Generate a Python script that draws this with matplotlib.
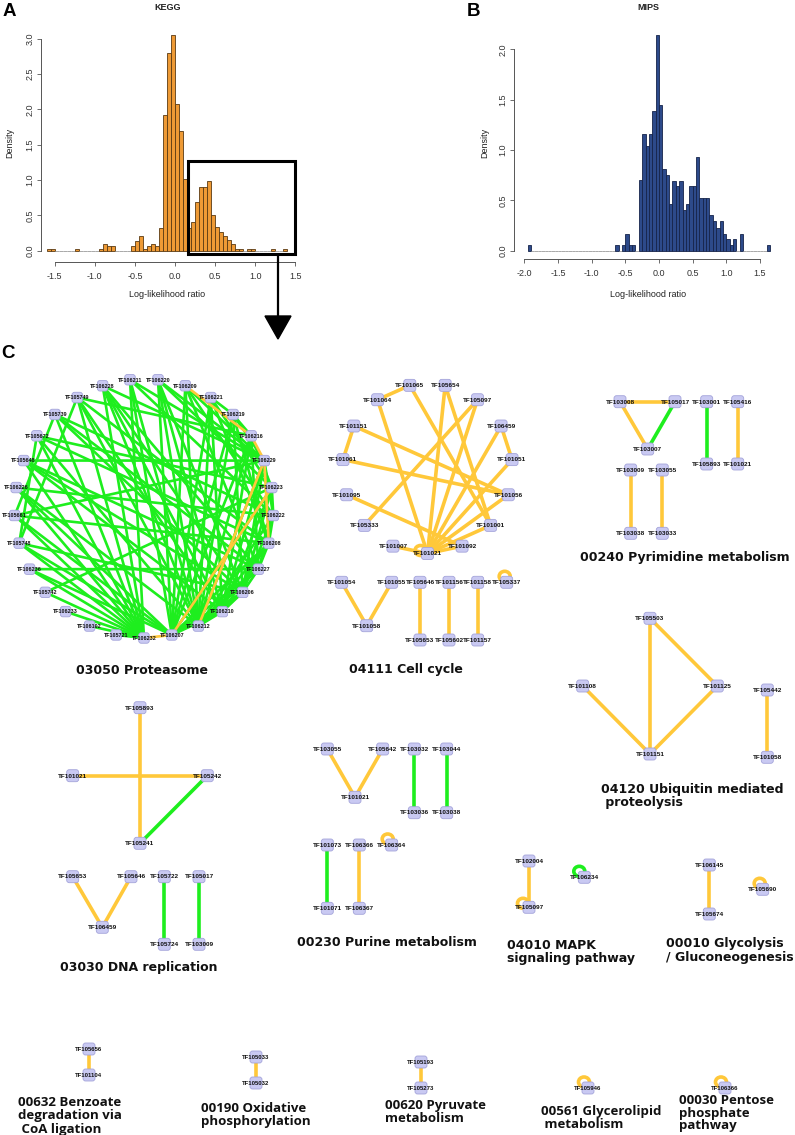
import numpy as np
import matplotlib
matplotlib.use("Agg")
import matplotlib.pyplot as plt
from matplotlib.patches import FancyBboxPatch, Rectangle, Polygon, Ellipse

# ======================= DATA =======================
bin_width = 0.05
kegg_bin_start = -1.60
kegg_density = [0.03, 0.03, 0, 0, 0, 0, 0, 0.03, 0, 0,
                0, 0, 0, 0.03, 0.10, 0.06, 0.06, 0, 0, 0,
                0, 0.06, 0.14, 0.21, 0.03, 0.06, 0.10, 0.06, 0.32, 1.92,
                2.80, 3.05, 2.07, 1.70, 1.01, 0.32, 0.40, 0.69, 0.90, 0.90,
                0.98, 0.50, 0.33, 0.27, 0.21, 0.15, 0.09, 0.03, 0.03, 0,
                0.03, 0.03, 0, 0, 0, 0, 0.03, 0, 0, 0.03]
mips_bin_start = -1.95
mips_density = [0.057] + [0] * 25 + [0.057, 0, 0.057, 0.17, 0.057, 0.057, 0,
                0.70, 1.16, 1.04, 1.16, 1.39, 2.14, 1.45, 0.81, 0.75, 0.46,
                0.69, 0.64, 0.69, 0.40, 0.46, 0.64, 0.64, 0.93, 0.52, 0.52,
                0.52, 0.35, 0.29, 0.23, 0.29, 0.17, 0.116, 0.057, 0.116, 0,
                0.17, 0, 0, 0, 0, 0, 0, 0, 0.057]
kegg_xticks = [-1.5, -1.0, -0.5, 0.0, 0.5, 1.0, 1.5]
kegg_yticks = [0.0, 0.5, 1.0, 1.5, 2.0, 2.5, 3.0]
mips_xticks = [-2.0, -1.5, -1.0, -0.5, 0.0, 0.5, 1.0, 1.5]
mips_yticks = [0.0, 0.5, 1.0, 1.5, 2.0]
kegg_title, mips_title = "KEGG", "MIPS"
hist_xlabel, hist_ylabel = "Log-likelihood ratio", "Density"

# Networks: kind 'y' = yellow/orange interaction, 'g' = green interaction
proteasome_nodes = ["TF106211", "TF106220", "TF106209", "TF106221", "TF106219",
                    "TF106216", "TF106229", "TF106223", "TF106222", "TF106208",
                    "TF106227", "TF106206", "TF106210", "TF106212", "TF106207",
                    "TF106232", "TF105721", "TF106102", "TF106233", "TF105742",
                    "TF106236", "TF105748", "TF105661", "TF106226", "TF105648",
                    "TF105672", "TF105739", "TF105749", "TF106228"]
proteasome_green = {
    "TF106228": ["TF106232", "TF106206", "TF106210", "TF106227", "TF106229", "TF106212"],
    "TF105749": ["TF106232", "TF105748", "TF106212", "TF106210", "TF106208", "TF106216"],
    "TF105739": ["TF106232", "TF105661", "TF106206", "TF106227", "TF106222"],
    "TF105672": ["TF106232", "TF105748", "TF106212", "TF106208", "TF106223"],
    "TF105648": ["TF106229", "TF106232", "TF106210", "TF106206", "TF106227"],
    "TF106226": ["TF106232", "TF106207", "TF106222", "TF106212"],
    "TF105661": ["TF106232", "TF106208", "TF106207", "TF106229"],
    "TF105748": ["TF106232", "TF106206", "TF106207"],
    "TF106236": ["TF106227", "TF106232", "TF106207"],
    "TF105742": ["TF106232", "TF106223"],
    "TF106233": ["TF106232"],
    "TF106102": ["TF106232"],
    "TF105721": ["TF106232"],
    "TF106211": ["TF106232", "TF106207", "TF106212", "TF106229", "TF106222"],
    "TF106220": ["TF106207", "TF106212", "TF106210", "TF106206", "TF106223", "TF106229"],
    "TF106209": ["TF106207", "TF106212", "TF106227", "TF106222", "TF106229"],
    "TF106221": ["TF106207", "TF106212", "TF106210", "TF106208", "TF106223", "TF106219"],
    "TF106219": ["TF106207", "TF106212", "TF106206", "TF106208", "TF106229", "TF106216"],
    "TF106216": ["TF106207", "TF106212", "TF106210", "TF106227", "TF106223"],
    "TF106229": ["TF106212", "TF106206", "TF106222", "TF106210"],
    "TF106223": ["TF106207", "TF106210", "TF106206", "TF106222"],
    "TF106222": ["TF106212", "TF106206", "TF106227", "TF106208"],
    "TF106208": ["TF106207", "TF106212", "TF106210", "TF106227"],
    "TF106227": ["TF106207", "TF106212", "TF106206"],
    "TF106206": ["TF106207", "TF106212", "TF106210"],
    "TF106210": ["TF106207", "TF106212"],
}
proteasome_yellow = [("TF106209", "TF106216"), ("TF106216", "TF106229"),
                     ("TF106229", "TF106208"), ("TF106232", "TF106207"),
                     ("TF106207", "TF106223"), ("TF106212", "TF106229")]

cellcycle_ring = ["TF101021", "TF101007", "TF105333", "TF101095", "TF101061",
                  "TF101151", "TF101064", "TF101065", "TF105654", "TF105097",
                  "TF106459", "TF101051", "TF101056", "TF101001", "TF101092"]
cellcycle_edges = [("TF101065", "TF101064", "y"), ("TF101064", "TF101021", "y"),
                   ("TF105654", "TF101021", "y"), ("TF105654", "TF101001", "y"),
                   ("TF101065", "TF101001", "y"), ("TF105097", "TF105333", "y"),
                   ("TF105097", "TF101021", "y"), ("TF101151", "TF101061", "y"),
                   ("TF101151", "TF101056", "y"), ("TF101061", "TF101056", "y"),
                   ("TF106459", "TF101051", "y"), ("TF106459", "TF101021", "y"),
                   ("TF101051", "TF101021", "y"), ("TF101095", "TF101092", "y"),
                   ("TF101056", "TF101021", "y"), ("TF101001", "TF101021", "y"),
                   ("TF101007", "TF101021", "y"), ("TF101092", "TF101021", "y"),
                   ("TF101021", "TF101021", "y")]
cellcycle_small_edges = [("TF101054", "TF101058", "y"), ("TF101055", "TF101058", "y"),
                         ("TF105646", "TF105653", "y"), ("TF101156", "TF105602", "y"),
                         ("TF101158", "TF101157", "y"), ("TF105337", "TF105337", "y")]
pyrimidine_edges = [("TF103008", "TF105017", "y"), ("TF103008", "TF103007", "y"),
                    ("TF105017", "TF103007", "g"), ("TF103001", "TF105893", "g"),
                    ("TF105416", "TF101021", "y"), ("TF103009", "TF103038", "y"),
                    ("TF103055", "TF103033", "y")]
ubiquitin_edges = [("TF105503", "TF101151", "y"), ("TF105503", "TF101125", "y"),
                   ("TF101108", "TF101151", "y"), ("TF101125", "TF101151", "y"),
                   ("TF105442", "TF101058", "y")]
dna_edges = [("TF105893", "TF105241", "y"), ("TF101021", "TF105242", "y"),
             ("TF105242", "TF105241", "g"), ("TF105653", "TF106459", "y"),
             ("TF105646", "TF106459", "y"), ("TF105722", "TF105724", "g"),
             ("TF105017", "TF103009", "g")]
purine_edges = [("TF103055", "TF101021", "y"), ("TF105642", "TF101021", "y"),
                ("TF103032", "TF103036", "g"), ("TF103044", "TF103038", "g"),
                ("TF101073", "TF101071", "g"), ("TF106366", "TF106367", "y"),
                ("TF106364", "TF106364", "y")]
mapk_edges = [("TF102004", "TF105097", "y"), ("TF105097", "TF105097", "y"),
              ("TF106234", "TF106234", "g")]
glycolysis_edges = [("TF106145", "TF105674", "y"), ("TF105690", "TF105690", "y")]
benzoate_edges = [("TF105656", "TF101104", "y")]
oxphos_edges = [("TF105033", "TF105032", "y")]
pyruvate_edges = [("TF105193", "TF105273", "y")]
glycerolipid_edges = [("TF105946", "TF105946", "y")]
pentose_edges = [("TF106366", "TF106366", "y")]

pathway_titles = ["03050 Proteasome", "04111 Cell cycle", "00240 Pyrimidine metabolism",
                  "04120 Ubiquitin mediated\n proteolysis", "03030 DNA replication",
                  "00230 Purine metabolism", "04010 MAPK\nsignaling pathway",
                  "00010 Glycolysis\n/ Gluconeogenesis"]
bottom_titles = ["00632 Benzoate\ndegradation via\n CoA ligation",
                 "00190 Oxidative\nphosphorylation", "00620 Pyruvate\nmetabolism",
                 "00561 Glycerolipid\n metabolism", "00030 Pentose\nphosphate\npathway"]

# ======================= LAYOUT / STYLE =======================
W, H = 795, 1135
YEL, GRN = "#FFC83A", "#1EEE1E"
EDGE_COL = {"y": YEL, "g": GRN}
NODE_FC, NODE_EC = "#C9C9F2", "#A4A4DA"
LBL_FONT = ["Liberation Sans", "DejaVu Sans"]


def ring(nodes, cx, cy, r, start_deg):
    n = len(nodes)
    out = {}
    for i, nd in enumerate(nodes):
        a = np.deg2rad(start_deg + 360.0 * i / n)
        out[nd] = (cx + r * np.sin(a), cy - r * np.cos(a))
    return out


pos_proteasome = ring(proteasome_nodes, 144, 508.5, 129.5, -6.2)
pos_cellcycle = ring(cellcycle_ring, 427.5, 468.5, 85, 180)
pos_cellcycle_small = {"TF101054": (341.7, 582.3), "TF101055": (391.7, 582.3),
                       "TF105646": (420, 582.3), "TF101156": (449, 582.3),
                       "TF101158": (477.7, 582.3), "TF105337": (506.7, 582.3),
                       "TF101058": (366.7, 625.7), "TF105653": (420, 640),
                       "TF105602": (449, 640), "TF101157": (477.7, 640)}
pos_pyrimidine = {"TF103008": (620, 401.7), "TF105017": (675, 401.7),
                  "TF103001": (706.7, 401.7), "TF105416": (737.7, 401.7),
                  "TF103007": (647.7, 449), "TF105893": (706.7, 464),
                  "TF101021": (737.7, 464), "TF103009": (630.7, 470),
                  "TF103055": (662.3, 470), "TF103038": (630.7, 533.3),
                  "TF103033": (662.3, 533.3)}
pos_ubiquitin = {"TF105503": (650, 618.3), "TF101108": (582.7, 686),
                 "TF101125": (717.3, 686), "TF101151": (650, 754),
                 "TF105442": (767.3, 690), "TF101058": (767.3, 757.3)}
pos_dna = {"TF105893": (140, 707.7), "TF101021": (72.7, 775.7),
           "TF105242": (207.3, 775.7), "TF105241": (140, 843.3),
           "TF105653": (72.7, 876.7), "TF105646": (131, 876.7),
           "TF105722": (164.3, 876.7), "TF105017": (199, 876.7),
           "TF106459": (102.3, 927.3), "TF105724": (164.3, 944.3),
           "TF103009": (199, 944.3)}
pos_purine = {"TF103055": (327.3, 749), "TF105642": (382.7, 749),
              "TF103032": (414.3, 749), "TF103044": (446.7, 749),
              "TF101021": (355, 797.3), "TF103036": (414.3, 812.7),
              "TF103038": (446.7, 812.7), "TF101073": (327.3, 845),
              "TF106366": (359.3, 845), "TF106364": (391.7, 845),
              "TF101071": (327.3, 908.3), "TF106367": (359.3, 908.3)}
pos_mapk = {"TF102004": (529, 861), "TF105097": (529, 907.3), "TF106234": (584.3, 877.3)}
pos_glycolysis = {"TF106145": (709.3, 865), "TF105674": (709.3, 914), "TF105690": (762.7, 889.3)}
pos_benzoate = {"TF105656": (89, 1049), "TF101104": (89, 1075)}
pos_oxphos = {"TF105033": (256, 1057), "TF105032": (256, 1083)}
pos_pyruvate = {"TF105193": (421, 1062), "TF105273": (421, 1088)}
pos_glycerolipid = {"TF105946": (588, 1088)}
pos_pentose = {"TF106366": (725, 1088)}

loop_offsets = {"TF101021": (-7, -3), "TF105337": (-2, -6), "TF106364": (-4, -6),
                "TF105097": (-6, -4), "TF106234": (-5, -6), "TF105690": (-3, -6),
                "TF105946": (-4, -6), "TF106366": (-4, -6)}

title_pos = [(141.7, 670, "center"), (406, 669, "center"), (685, 557, "center"),
             (601, 796, "left"), (139, 968, "center"), (387, 942, "center"),
             (507, 952, "left"), (666, 950.5, "left")]
bottom_title_pos = [(18, 1116), (201, 1114.5), (385, 1112), (541, 1118), (679, 1113)]

# ======================= FIGURE =======================
fig = plt.figure(figsize=(W / 100, H / 100), dpi=100)


def frac_rect(l, t, r, b):
    return [l / W, 1 - b / H, (r - l) / W, (b - t) / H]


def make_hist(start, dens, zero_px, ppu_x, base_px, ppu_y, l, r, t, b,
              xticks, yticks, face, edge):
    ax = fig.add_axes(frac_rect(l, t, r, b))
    dens = np.asarray(dens, dtype=float)
    lefts = start + bin_width * np.arange(len(dens))
    ecs = [edge if d > 0 else "#9a9a9a" for d in dens]
    ax.bar(lefts, dens, width=bin_width, align="edge", color=face,
           edgecolor=ecs, linewidth=0.6)
    ax.set_xlim((l - zero_px) / ppu_x, (r - zero_px) / ppu_x)
    ax.set_ylim((base_px - b) / ppu_y, (base_px - t) / ppu_y)
    for s in ("top", "right"):
        ax.spines[s].set_visible(False)
    for s in ("left", "bottom"):
        ax.spines[s].set_color("#555555")
        ax.spines[s].set_linewidth(0.7)
    ax.spines["bottom"].set_bounds(xticks[0], xticks[-1])
    ax.spines["left"].set_bounds(yticks[0], yticks[-1])
    ax.set_xticks(xticks)
    ax.set_xticklabels([f"{v:.1f}" for v in xticks], family=LBL_FONT)
    ax.set_yticks(yticks)
    ax.set_yticklabels([f"{v:.1f}" for v in yticks], rotation=90, va="center",
                       family=LBL_FONT)
    ax.tick_params(length=3, width=0.6, color="#555555", labelsize=6.5,
                   labelcolor="#333333")
    ax.tick_params(axis="x", pad=4.5)
    ax.tick_params(axis="y", pad=1.5)
    ax.patch.set_alpha(0)
    return ax


ax_k = make_hist(kegg_bin_start, kegg_density, 175, 80.3, 250.7, 70.7,
                 41, 300, 30, 262, kegg_xticks, kegg_yticks, "#EE9A35", "#5a3a12")
ax_m = make_hist(mips_bin_start, mips_density, 659, 67.3, 250.7, 100.7,
                 514, 780, 30, 258.7, mips_xticks, mips_yticks, "#2D4A8A", "#16244a")

# zoom box on KEGG histogram
ax_k.add_patch(Rectangle((0.16, -0.05), 1.337, 1.315, fill=False, ec="black",
                         lw=2.2, clip_on=False, zorder=5))


def ftext(x, y, s, **kw):
    fig.text(x / W, 1 - y / H, s, **kw)


hist_font = dict(family=LBL_FONT, color="#222222")
ftext(167.5, 8, kegg_title, ha="center", va="center", fontsize=6.5, fontweight="bold", **hist_font)
ftext(648.5, 8, mips_title, ha="center", va="center", fontsize=6.5, fontweight="bold", **hist_font)
ftext(167.5, 294.5, hist_xlabel, ha="center", va="center", fontsize=6.5, **hist_font)
ftext(648, 294.5, hist_xlabel, ha="center", va="center", fontsize=6.5, **hist_font)
ftext(10, 143, hist_ylabel, ha="center", va="center", rotation=90, fontsize=6.5, **hist_font)
ftext(484.5, 143, hist_ylabel, ha="center", va="center", rotation=90, fontsize=6.5, **hist_font)
for lab, x, y in (("A", 9, 11.5), ("B", 474, 11.5), ("C", 8.5, 353.5)):
    ftext(x, y, lab, ha="center", va="center", fontsize=13.5, fontweight="bold",
          family=["Liberation Sans", "DejaVu Sans"])

# ---------- network overlay ----------
ax = fig.add_axes([0, 0, 1, 1])
ax.set_xlim(0, W)
ax.set_ylim(H, 0)
ax.axis("off")

# arrow from zoom box to panel C
ax.plot([278, 278], [254, 318], color="black", lw=1.6, solid_capstyle="butt", zorder=5)
ax.add_patch(Polygon([(265, 316), (291, 316), (278, 339)], closed=True,
                     fc="black", ec="black", zorder=5))


def draw_network(pos, edges, lw=2.6, node_size=12, fs=4.6):
    for a, b, k in edges:
        if a == b:
            dx, dy = loop_offsets.get(a, (-4, -6))
            x, y = pos[a]
            ax.add_patch(Ellipse((x + dx, y + dy), 11, 10, fill=False,
                                 ec=EDGE_COL[k], lw=lw, zorder=2))
        else:
            (x1, y1), (x2, y2) = pos[a], pos[b]
            ax.plot([x1, x2], [y1, y2], color=EDGE_COL[k], lw=lw,
                    solid_capstyle="round", zorder=1)
    rr = 2.6
    for n, (x, y) in pos.items():
        ax.add_patch(FancyBboxPatch((x - node_size / 2 + rr, y - node_size / 2 + rr),
                                    node_size - 2 * rr, node_size - 2 * rr,
                                    boxstyle=f"round,pad={rr}", fc=NODE_FC, ec=NODE_EC,
                                    lw=0.6, zorder=3))
        ax.text(x, y + 0.3, n, ha="center", va="center", fontsize=fs,
                fontweight="bold", family=LBL_FONT, color="#111111", zorder=4)


prot_edges = [(a, b, "g") for a, lst in proteasome_green.items() for b in lst]
prot_edges += [(a, b, "y") for a, b in proteasome_yellow]
draw_network(pos_proteasome, prot_edges, lw=1.9, node_size=10.5, fs=3.9)
draw_network(pos_cellcycle, cellcycle_edges)
draw_network(pos_cellcycle_small, cellcycle_small_edges)
draw_network(pos_pyrimidine, pyrimidine_edges)
draw_network(pos_ubiquitin, ubiquitin_edges)
draw_network(pos_dna, dna_edges)
draw_network(pos_purine, purine_edges)
draw_network(pos_mapk, mapk_edges)
draw_network(pos_glycolysis, glycolysis_edges)
draw_network(pos_benzoate, benzoate_edges, fs=4.3)
draw_network(pos_oxphos, oxphos_edges, fs=4.3)
draw_network(pos_pyruvate, pyruvate_edges, fs=4.3)
draw_network(pos_glycerolipid, glycerolipid_edges, fs=4.3)
draw_network(pos_pentose, pentose_edges, fs=4.3)

for s, (x, y, ha) in zip(pathway_titles, title_pos):
    ax.text(x, y, s, ha=ha, va="center", fontsize=9, fontweight="bold",
            family=["DejaVu Sans"], color="#111111", linespacing=1.05)
for s, (x, y) in zip(bottom_titles, bottom_title_pos):
    ax.text(x, y, s, ha="left", va="center", fontsize=9.5, fontweight="bold",
            family=["Open Sans", "DejaVu Sans"], color="#111111", linespacing=1.0)

fig.savefig("out.png", dpi=100)
